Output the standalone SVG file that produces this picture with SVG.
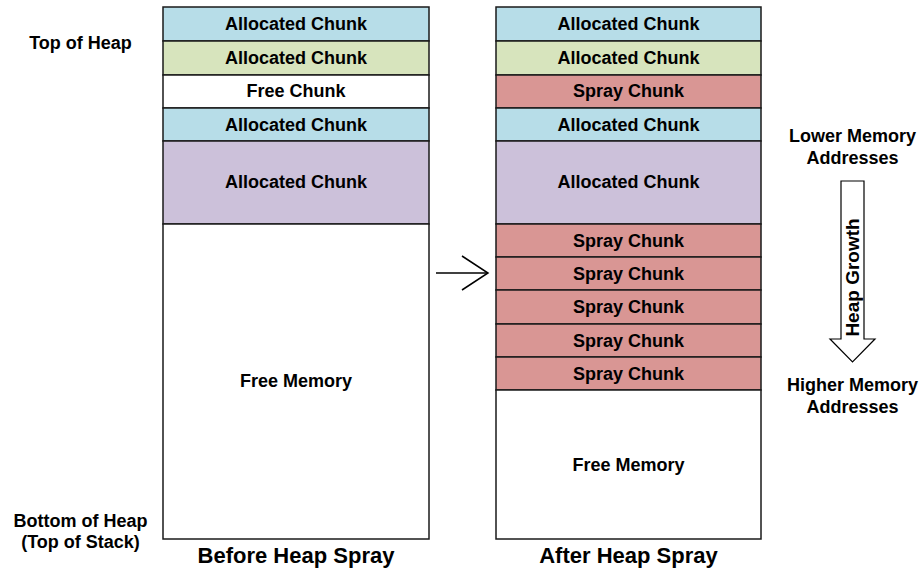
<svg xmlns="http://www.w3.org/2000/svg" width="922" height="569" viewBox="0 0 922 569">
<style>
  .box{stroke:#1a1a1a;stroke-width:1.5}
  .blue{fill:#b7dde8}
  .green{fill:#d7e4bd}
  .white{fill:#ffffff}
  .purple{fill:#ccc1da}
  .pink{fill:#d99694}
  text{font-family:"Liberation Sans",Arial,sans-serif;font-weight:bold;fill:#000;text-anchor:middle}
  .t{font-size:18px}
  .title{font-size:22px}
</style>
<rect width="922" height="569" fill="#fff"/>
<g id="before">
  <g id="b1"><rect class="box blue" x="163" y="7" width="266" height="34"/><text class="t" x="296" y="30">Allocated Chunk</text></g>
  <g id="b2"><rect class="box green" x="163" y="41" width="266" height="34"/><text class="t" x="296" y="63.5">Allocated Chunk</text></g>
  <g id="b3"><rect class="box white" x="163" y="75" width="266" height="33"/><text class="t" x="296" y="97">Free Chunk</text></g>
  <g id="b4"><rect class="box blue" x="163" y="108" width="266" height="33"/><text class="t" x="296" y="130.5">Allocated Chunk</text></g>
  <g id="b5"><rect class="box purple" x="163" y="141" width="266" height="83"/><text class="t" x="296" y="188">Allocated Chunk</text></g>
  <g id="b6"><rect class="box white" x="163" y="224" width="266" height="315"/><text class="t" x="296" y="387">Free Memory</text></g>
  <text class="title" x="296" y="563">Before Heap Spray</text>
</g>
<g id="after">
  <g id="a1"><rect class="box blue" x="496" y="7" width="265" height="34"/><text class="t" x="628.5" y="30">Allocated Chunk</text></g>
  <g id="a2"><rect class="box green" x="496" y="41" width="265" height="34"/><text class="t" x="628.5" y="63.5">Allocated Chunk</text></g>
  <g id="a3"><rect class="box pink" x="496" y="75" width="265" height="33"/><text class="t" x="628.5" y="97">Spray Chunk</text></g>
  <g id="a4"><rect class="box blue" x="496" y="108" width="265" height="33"/><text class="t" x="628.5" y="130.5">Allocated Chunk</text></g>
  <g id="a5"><rect class="box purple" x="496" y="141" width="265" height="83"/><text class="t" x="628.5" y="188">Allocated Chunk</text></g>
  <g id="a6"><rect class="box pink" x="496" y="224" width="265" height="33"/><text class="t" x="628.5" y="246.5">Spray Chunk</text></g>
  <g id="a7"><rect class="box pink" x="496" y="257" width="265" height="33"/><text class="t" x="628.5" y="279.5">Spray Chunk</text></g>
  <g id="a8"><rect class="box pink" x="496" y="290" width="265" height="34"/><text class="t" x="628.5" y="313">Spray Chunk</text></g>
  <g id="a9"><rect class="box pink" x="496" y="324" width="265" height="33"/><text class="t" x="628.5" y="346.5">Spray Chunk</text></g>
  <g id="a10"><rect class="box pink" x="496" y="357" width="265" height="33"/><text class="t" x="628.5" y="379.5">Spray Chunk</text></g>
  <g id="a11"><rect class="box white" x="496" y="390" width="265" height="149"/><text class="t" x="628.5" y="471">Free Memory</text></g>
  <text class="title" x="628.5" y="563">After Heap Spray</text>
</g>
<g id="labels">
  <text class="t" x="80.5" y="48.5">Top of Heap</text>
  <text class="t" x="80.5" y="527">Bottom of Heap</text>
  <text class="t" x="80.5" y="547.5">(Top of Stack)</text>
  <text class="t" x="852.5" y="142">Lower Memory</text>
  <text class="t" x="852.5" y="164">Addresses</text>
  <text class="t" x="852.5" y="391">Higher Memory</text>
  <text class="t" x="852.5" y="413">Addresses</text>
</g>
<g id="connectors" fill="none" stroke="#000" stroke-width="1.5">
  <line x1="436" y1="273" x2="487" y2="273"/>
  <polyline points="462,256 488,273 462,290"/>
</g>
<g id="heap-growth">
  <polygon points="841,181 864,181 864,339 875,339 852.5,362 830,339 841,339" fill="#fff" stroke="#000" stroke-width="1.2"/>
  <text class="t" transform="translate(858.5,277.5) rotate(-90)" x="0" y="0" style="font-size:19px">Heap Growth</text>
</g>
</svg>
